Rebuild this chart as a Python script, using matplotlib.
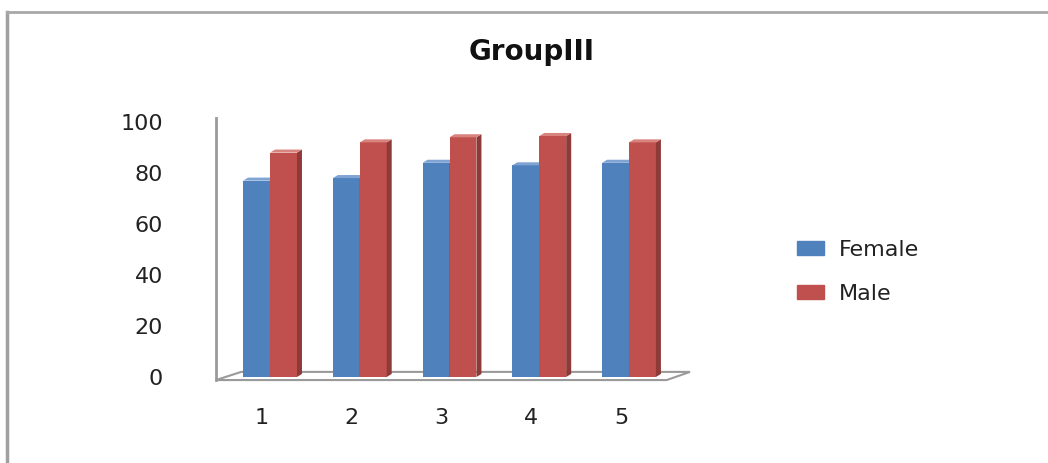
import matplotlib.pyplot as plt
import matplotlib.transforms as mtransforms
from matplotlib.lines import Line2D
from matplotlib.patches import Polygon

# Scores per group, read as percentages
groups = ["1", "2", "3", "4", "5"]
female = [77, 78, 84, 83, 84]
male = [88, 92, 94, 94.5, 92]
y_ticks = [0, 20, 40, 60, 80, 100]

FEMALE_COLORS = ("#4F81BD", "#3A6193", "#7FA3D3")  # front, side, top
MALE_COLORS = ("#C0504D", "#8E3A38", "#D9837F")

BAR_W = 0.30
DX, DY = 0.056, 1.2  # depth offset for the pseudo-3D look

fig = plt.figure(figsize=(10.48, 4.63), dpi=100)
ax = fig.add_axes([216 / 1048, 86 / 463, 474 / 1048, 255 / 463])
ax.set_xlim(0.398, 5.68)
ax.set_ylim(0, 100)

x = list(range(1, len(groups) + 1))


def bar3d(ax, xc, h, colors, z):
    front, side, top = colors
    left, right = xc - BAR_W / 2, xc + BAR_W / 2
    ax.bar(xc, h, width=BAR_W, color=front, zorder=z, linewidth=0)
    ax.add_patch(Polygon([(right, 0), (right + DX, DY), (right + DX, h + DY), (right, h)],
                         closed=True, facecolor=side, edgecolor="none", zorder=z))
    ax.add_patch(Polygon([(left, h), (right, h), (right + DX, h + DY), (left + DX, h + DY)],
                         closed=True, facecolor=top, edgecolor="none", zorder=z, clip_on=False))


# floor under the bars
x0, x1 = ax.get_xlim()
floor = Polygon([(x0, -1.2), (x1 - 0.26, -1.2), (x1, 2.0), (x0 + 0.28, 2.0)],
                closed=True, facecolor="white", edgecolor="#9a9a9a", lw=1.5,
                zorder=1, clip_on=False)
ax.add_patch(floor)

for i, xc in enumerate(x):
    z = 3 + 2 * i
    bar3d(ax, xc - BAR_W / 2, female[i], FEMALE_COLORS, z)
    bar3d(ax, xc + BAR_W / 2, male[i], MALE_COLORS, z + 1)

# vertical axis line
ax.plot([x0, x0], [-1.2, 101.5], color="#9a9a9a", lw=2, clip_on=False, zorder=2)

for s in ax.spines.values():
    s.set_visible(False)
ax.set_yticks(y_ticks)
ax.set_xticks(x)
ax.set_xticklabels(groups)
ax.tick_params(axis="y", length=0, pad=38, labelsize=16, labelcolor="#222222")
ax.tick_params(axis="x", length=0, pad=22, labelsize=16, labelcolor="#222222")
shift = mtransforms.ScaledTranslation(-8 / 100, 0, fig.dpi_scale_trans)
for lbl in ax.get_xticklabels():
    lbl.set_transform(lbl.get_transform() + shift)

# legend
handles = [plt.Rectangle((0, 0), 1, 1, color=FEMALE_COLORS[0]),
           plt.Rectangle((0, 0), 1, 1, color=MALE_COLORS[0])]
fig.legend(handles, ["Female", "Male"], loc="center left",
           bbox_to_anchor=(797 / 1048, 1 - 272 / 463), frameon=False,
           fontsize=16, handlelength=1.2, handleheight=0.6, handletextpad=0.7,
           labelspacing=1.1, borderpad=0, borderaxespad=0, labelcolor="#222222")

fig.text(532 / 1048, 1 - 52 / 463, "GroupIII", ha="center", va="center",
         fontsize=20, fontweight="bold", color="#111111")

# outer chart frame (left and top edges)
fig.add_artist(Line2D([7 / 1048, 7 / 1048], [0, 1 - 12 / 463], transform=fig.transFigure,
                      color="#a0a0a0", lw=2.5))
fig.add_artist(Line2D([7 / 1048, 1], [1 - 12 / 463, 1 - 12 / 463], transform=fig.transFigure,
                      color="#a8a8a8", lw=2))

fig.savefig("out.png", dpi=100)
